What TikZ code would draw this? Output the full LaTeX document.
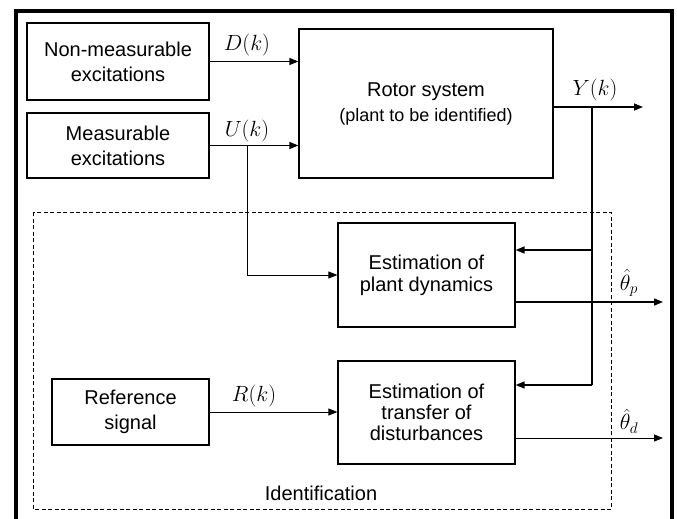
\RequirePackage{fix-cm}
\documentclass[tikz,border=0pt]{standalone}
\usepackage{fontspec}
\setmainfont{Liberation Sans}
\usetikzlibrary{arrows.meta}

\begin{document}
\begin{tikzpicture}[x=1pt,y=-1pt,
    blockbox/.style={draw,line width=1.2pt,align=center,inner sep=0pt,font=\fontsize{20}{25}\selectfont},
    sig/.style={line width=1.4pt,-{Triangle[length=9pt,width=7pt]}},
    thinsig/.style={line width=0.9pt,-{Triangle[length=9pt,width=7pt]}},
    siglabel/.style={font=\fontsize{22}{26}\selectfont}]
    \useasboundingbox (0,0) rectangle (677,519);
    \fill[white] (0,0) rectangle (677,519);

    \draw[line width=4pt] (15.5,530) -- (15.5,11.5) -- (672,11.5) -- (672,530);
    \draw[line width=1pt,dash pattern=on 4pt off 2.5pt] (33,212) rectangle (611,509);

    \node[blockbox,minimum width=182pt,minimum height=77pt] (nonmeas) at (118,61.5) {Non-measurable\\excitations};
    \node[blockbox,minimum width=182pt,minimum height=65pt] (meas) at (118,145.5) {Measurable\\excitations};
    \node[blockbox,minimum width=254pt,minimum height=149pt] (rotor) at (426,103.5)
        {Rotor system\\{\fontsize{18}{22}\selectfont (plant to be identified)}};
    \node[blockbox,font=\fontsize{20}{22}\selectfont,minimum width=177pt,minimum height=104pt] (estplant) at (426.5,275)
        {Estimation of\\plant dynamics};
    \node[blockbox,font=\fontsize{20}{21}\selectfont,minimum width=177pt,minimum height=103pt] (esttrans) at (426.5,412.5)
        {Estimation of\\transfer of\\disturbances};
    \node[blockbox,minimum width=157pt,minimum height=66pt] (refsig) at (130.5,412) {Reference\\signal};
    \node[font=\fontsize{20}{24}\selectfont] (ident) at (321,493) {Identification};

    \coordinate (ubranch) at (247,145.5);
    \coordinate (ybranch) at (592,107);
    \coordinate (yend) at (643,107);
    \coordinate (ytop) at (592,250);
    \coordinate (ybot) at (592,385);
    \coordinate (thetap) at (663,302);
    \coordinate (thetad) at (663,438);

    \draw[sig] (nonmeas.east) -- (nonmeas.east -| rotor.west);
    \draw[sig] (meas.east) -- (meas.east -| rotor.west);
    \draw[thinsig] (ubranch) |- (estplant.west);
    \draw[sig] (rotor.east |- ybranch) -- (yend);
    \draw[line width=1.4pt] (ybranch) -- (ybot);
    \draw[sig] (ytop) -- (ytop -| estplant.east);
    \draw[sig] (ybot) -- (ybot -| esttrans.east);
    \draw[sig] (thetap -| estplant.east) -- (thetap);
    \draw[thinsig] (thetad -| esttrans.east) -- (thetad);
    \draw[thinsig] (refsig.east) -- (refsig.east -| esttrans.west);

    \node[siglabel] (dlabel) at (247,45) {$D(k)$};
    \node[siglabel] (ulabel) at (247,131) {$U(k)$};
    \node[siglabel] (ylabel) at (595,90) {$Y(k)$};
    \node[siglabel] (rlabel) at (254,396) {$R(k)$};
    \node[siglabel] (tplabel) at (629,283) {$\hat{\theta}_p$};
    \node[siglabel] (tdlabel) at (629,421) {$\hat{\theta}_d$};
\end{tikzpicture}
\end{document}
